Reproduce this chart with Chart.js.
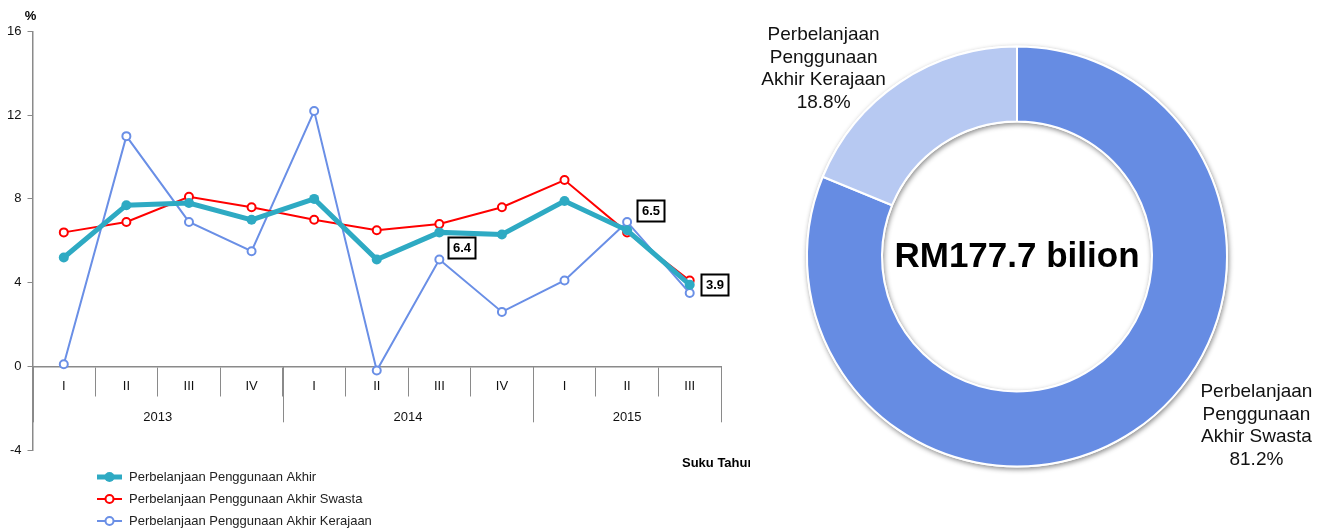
<!DOCTYPE html>
<html>
<head>
<meta charset="utf-8">
<script src="https://cdn.jsdelivr.net/npm/chart.js@4.4.0/dist/chart.umd.min.js"></script>
<style>
  html, body { margin: 0; padding: 0; background: #fff; }
  #garis { position: absolute; left: 0; top: 0; }
  #donat { position: absolute; left: 750px; top: 0; }
</style>
</head>
<body>
<canvas id="garis" width="750" height="531"></canvas>
<canvas id="donat" width="576" height="531"></canvas>
<script>
// DATA CARTA GARIS
var suku = ['I', 'II', 'III', 'IV', 'I', 'II', 'III', 'IV', 'I', 'II', 'III'];
var tahun = ['2013', '2014', '2015'];
var sukuSetahun = [4, 4, 3];
var penggunaanAkhir = [5.2, 7.7, 7.8, 7.0, 8.0, 5.1, 6.4, 6.3, 7.9, 6.5, 3.9];
var akhirSwasta = [6.4, 6.9, 8.1, 7.6, 7.0, 6.5, 6.8, 7.6, 8.9, 6.4, 4.1];
var akhirKerajaan = [0.1, 11.0, 6.9, 5.5, 12.2, -0.2, 5.1, 2.6, 4.1, 6.9, 3.5];
var tickY = [-4, 0, 4, 8, 12, 16];
var titikBerlabel = [6, 9, 10];
var namaSiri = ['Perbelanjaan Penggunaan Akhir', 'Perbelanjaan Penggunaan Akhir Swasta', 'Perbelanjaan Penggunaan Akhir Kerajaan'];

// DATA CARTA DONAT
var komponen = ['Perbelanjaan Penggunaan Akhir Swasta', 'Perbelanjaan Penggunaan Akhir Kerajaan'];
var peratus = [81.2, 18.8];
var jumlah = 'RM177.7 bilion';

var SANS = "'Liberation Sans', Arial, sans-serif";
var KELABU = '#8a8a8a';
var warnaSiri = ['#2eaac3', '#ff0000', '#6a8fe6'];

// kedudukan kotak nilai berbanding titik
var geserLabel = { 6: [9, 5], 9: [10, -30], 10: [11, -11] };

var hiasanGaris = {
  id: 'hiasanGaris',
  afterDraw: function (chart) {
    var ctx = chart.ctx, x = chart.scales.x, y = chart.scales.y, area = chart.chartArea;
    var y0 = y.getPixelForValue(0);
    var langkah = x.getPixelForValue(1) - x.getPixelForValue(0);
    ctx.save();

    // garis pemisah tahun dan label tahun
    ctx.strokeStyle = KELABU;
    ctx.lineWidth = 1;
    ctx.fillStyle = '#111';
    ctx.font = '13px ' + SANS;
    ctx.textAlign = 'center';
    ctx.textBaseline = 'middle';
    var mula = 0;
    for (var t = 0; t <= tahun.length; t++) {
      var xb = Math.round(x.getPixelForValue(0) + (mula - 0.5) * langkah) + 0.5;
      ctx.beginPath();
      ctx.moveTo(xb, y0);
      ctx.lineTo(xb, y0 + 56);
      ctx.stroke();
      if (t < tahun.length) {
        ctx.fillText(tahun[t], x.getPixelForValue(0) + (mula + (sukuSetahun[t] - 1) / 2) * langkah, y0 + 51.5);
        mula += sukuSetahun[t];
      }
    }

    // kotak nilai
    var meta = chart.getDatasetMeta(0);
    ctx.font = 'bold 13px ' + SANS;
    titikBerlabel.forEach(function (i) {
      var p = meta.data[i];
      var g = geserLabel[i] || [9, 5];
      var bx = Math.round(p.x + g[0]) + 0.5, by = Math.round(p.y + g[1]) + 0.5;
      ctx.fillStyle = '#fff';
      ctx.fillRect(bx, by, 27, 21);
      ctx.strokeStyle = '#000';
      ctx.lineWidth = 2;
      ctx.strokeRect(bx, by, 27, 21);
      ctx.fillStyle = '#000';
      ctx.fillText(penggunaanAkhir[i].toFixed(1), bx + 13.5, by + 11);
    });

    // unit dan tajuk paksi
    ctx.font = 'bold 13px ' + SANS;
    ctx.fillText('%', area.left - 2, y.getPixelForValue(tickY[tickY.length - 1]) - 15);
    ctx.textAlign = 'left';
    ctx.fillText('Suku Tahun', area.right - 39, y0 + 97);

    // petunjuk
    ctx.font = '13px ' + SANS;
    chart.data.datasets.forEach(function (ds, i) {
      var ly = area.bottom + 27 + i * 22;
      var lx = area.left + 64.5;
      ctx.strokeStyle = ds.borderColor;
      ctx.lineWidth = ds.borderWidth;
      ctx.beginPath();
      ctx.moveTo(lx, ly);
      ctx.lineTo(lx + 25, ly);
      ctx.stroke();
      ctx.beginPath();
      ctx.arc(lx + 12.5, ly, ds.pointRadius, 0, Math.PI * 2);
      ctx.fillStyle = ds.pointBackgroundColor;
      ctx.fill();
      if (ds.pointBorderWidth) {
        ctx.lineWidth = ds.pointBorderWidth;
        ctx.stroke();
      }
      ctx.fillStyle = '#222';
      ctx.fillText(ds.label, lx + 32, ly);
    });
    ctx.restore();
  }
};

new Chart(document.getElementById('garis'), {
  type: 'line',
  data: {
    labels: suku,
    datasets: [
      { label: namaSiri[0], data: penggunaanAkhir, borderColor: warnaSiri[0], borderWidth: 5,
        pointRadius: 5, pointBorderWidth: 0, pointBackgroundColor: warnaSiri[0], pointBorderColor: warnaSiri[0] },
      { label: namaSiri[1], data: akhirSwasta, borderColor: warnaSiri[1], borderWidth: 2,
        pointRadius: 4, pointBorderWidth: 2, pointBackgroundColor: '#fff', pointBorderColor: warnaSiri[1] },
      { label: namaSiri[2], data: akhirKerajaan, borderColor: warnaSiri[2], borderWidth: 2,
        pointRadius: 4, pointBorderWidth: 2, pointBackgroundColor: '#fff', pointBorderColor: warnaSiri[2] }
    ]
  },
  options: {
    responsive: false,
    animation: false,
    layout: { padding: { left: 0, top: 31.5, right: 29, bottom: 81 } },
    plugins: { legend: { display: false }, tooltip: { enabled: false } },
    scales: {
      x: {
        type: 'category',
        offset: true,
        position: { y: 0 },
        grid: { offset: true, drawOnChartArea: false, drawTicks: true, tickLength: 29, color: KELABU, lineWidth: 1 },
        border: { color: KELABU, width: 1.5 },
        ticks: { font: { family: SANS, size: 13 }, color: '#111', padding: -16.5, maxRotation: 0, autoSkip: false }
      },
      y: {
        min: tickY[0],
        max: tickY[tickY.length - 1],
        afterBuildTicks: function (s) { s.ticks = tickY.map(function (v) { return { value: v }; }); },
        afterFit: function (s) { s.width = 32.5; },
        grid: { drawOnChartArea: false, drawTicks: true, tickLength: 5, color: KELABU },
        border: { color: KELABU, width: 1.5 },
        ticks: { font: { family: SANS, size: 13 }, color: '#111', padding: 6 }
      }
    }
  },
  plugins: [hiasanGaris]
});

// kedudukan label donat (gandaan jejari dari pusat)
var letakLabel = [[1.14, 0.805], [-0.921, -0.893]];

var hiasanDonat = {
  id: 'hiasanDonat',
  beforeDatasetsDraw: function (chart) {
    var ctx = chart.ctx, a = chart.getDatasetMeta(0).data[0];
    ctx.save();
    ctx.shadowColor = 'rgba(0,0,0,0.45)';
    ctx.shadowBlur = 5;
    ctx.shadowOffsetX = 1;
    ctx.shadowOffsetY = 2;
    ctx.fillStyle = '#fff';
    ctx.beginPath();
    ctx.arc(a.x, a.y, a.outerRadius + 1, 0, Math.PI * 2);
    ctx.arc(a.x, a.y, a.innerRadius - 1, 0, Math.PI * 2, true);
    ctx.fill();
    ctx.restore();
  },
  afterDraw: function (chart) {
    var ctx = chart.ctx, arcs = chart.getDatasetMeta(0).data, a = arcs[0];
    ctx.save();
    ctx.fillStyle = '#000';
    ctx.textAlign = 'center';
    ctx.textBaseline = 'middle';
    ctx.font = 'bold 35px ' + SANS;
    ctx.fillText(jumlah, a.x, a.y + 1);

    ctx.font = '19px ' + SANS;
    ctx.fillStyle = '#111';
    komponen.forEach(function (nama, i) {
      var kata = nama.split(' ');
      var baris = [kata[0], kata[1], kata.slice(2).join(' '), peratus[i].toFixed(1) + '%'];
      var cx = a.x + letakLabel[i][0] * a.outerRadius;
      var cy = a.y + letakLabel[i][1] * a.outerRadius;
      baris.forEach(function (b, j) {
        ctx.fillText(b, cx, cy + (j - 1.5) * 22.5);
      });
    });
    ctx.restore();
  }
};

new Chart(document.getElementById('donat'), {
  type: 'doughnut',
  data: {
    labels: komponen,
    datasets: [{ data: peratus, backgroundColor: ['#668ce3', '#b7c9f2'], borderColor: '#fff', borderWidth: 2 }]
  },
  options: {
    responsive: false,
    animation: false,
    radius: 210,
    cutout: '64.3%',
    rotation: 0,
    layout: { padding: { left: 0, top: 0, right: 42, bottom: 18 } },
    plugins: { legend: { display: false }, tooltip: { enabled: false } }
  },
  plugins: [hiasanDonat]
});
</script>
</body>
</html>
